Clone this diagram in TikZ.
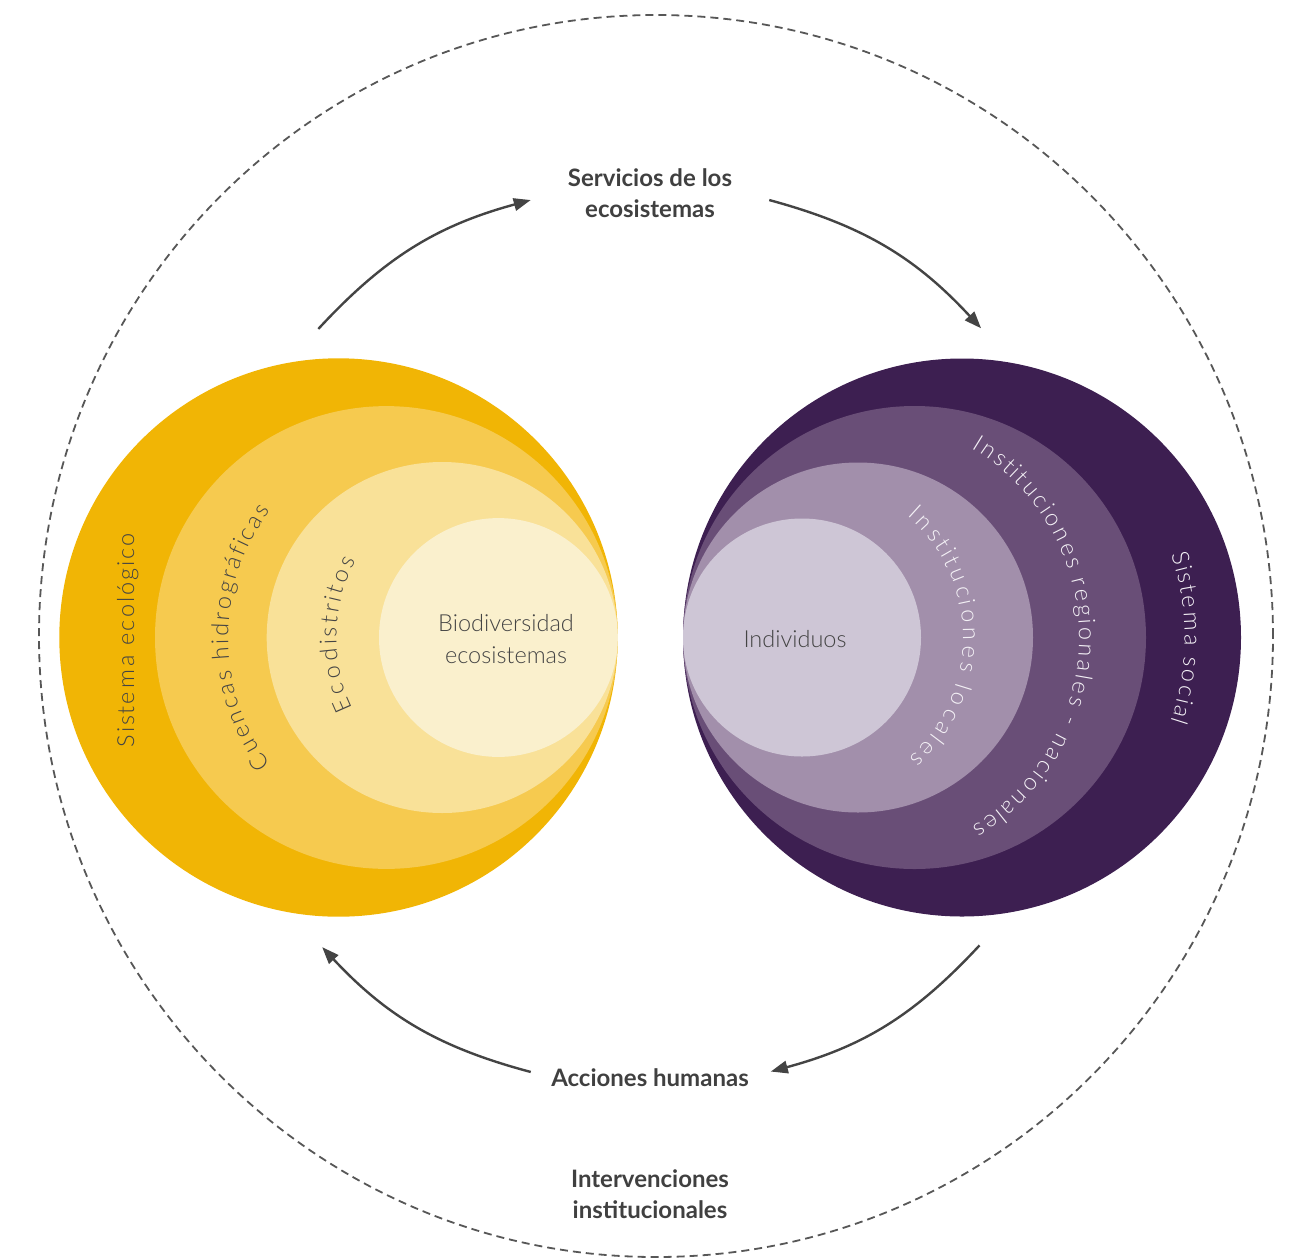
\documentclass[tikz,border=0pt]{standalone}
\usepackage{fontspec}
\setmainfont{Lato}
\IfFontExistsTF{Lato Light}{\newfontfamily\thinfont{Lato Light}}{\newfontfamily\thinfont{Lato}}
\usepackage{xcolor}
\usepackage{tikz}
\usetikzlibrary{positioning, arrows.meta, calc, decorations.text}
\definecolor{ecofill1}{HTML}{F1B505}
\definecolor{ecofill2}{HTML}{F6CA4F}
\definecolor{ecofill3}{HTML}{F9E198}
\definecolor{ecofill4}{HTML}{FAF0CD}
\definecolor{socfill1}{HTML}{3D1F51}
\definecolor{socfill2}{HTML}{694E77}
\definecolor{socfill3}{HTML}{A28FAB}
\definecolor{socfill4}{HTML}{CEC6D6}
\definecolor{inkgray}{HTML}{444444}
\definecolor{labelgray}{HTML}{404040}
\definecolor{paleink}{HTML}{F4F1F6}
\newcommand{\ringfont}{\thinfont\fontsize{23.5}{32}\selectfont}
\newcommand{\headfont}{\bfseries\fontsize{24}{31}\selectfont}

\tikzset{
  ring/.style={circle, inner sep=0pt, minimum size=#1},
  flow/.style={draw=inkgray, line width=2.4pt, -{Triangle[length=17pt, width=12.5pt]}},
  head/.style={font=\headfont, text=labelgray, align=center},
  core/.style={font=\ringfont, text=inkgray, align=center},
  ontext/.style 2 args={decorate, decoration={text effects along path, text={#1},
    text effects/.cd, text along path, fit text to path,
    characters={text=#2, font=\ringfont, inner sep=0pt}}},
}

\begin{document}
\begin{tikzpicture}[x=1pt, y=1pt]
  \useasboundingbox (0,0) rectangle (1294,-1259);

  % outer frame
  \draw[dash pattern=on 8pt off 5pt, line width=1.8pt, draw=inkgray!90] (656,-636) ellipse [x radius=617, y radius=621];

  % ecological system
  \node[ring=558.4pt, fill=ecofill1] (eco1) at (338.5,-637.5) {};
  \node[ring=462.8pt, fill=ecofill2] (eco2) at (386.4,-637.5) {};
  \node[ring=351pt, fill=ecofill3] (eco3) at (442.2,-637.5) {};
  \node[ring=238.8pt, fill=ecofill4] (eco4) at (498.4,-637.5) {};

  % social system
  \node[ring=558pt, fill=socfill1] (soc1) at (962,-637.5) {};
  \node[ring=463pt, fill=socfill2] (soc2) at (914.5,-637.5) {};
  \node[ring=350pt, fill=socfill3] (soc3) at (858,-637.5) {};
  \node[ring=238pt, fill=socfill4] (soc4) at (802,-637.5) {};

  % labels in the rings
  \path[ontext={Sistema ecológico}{inkgray}] (134,-747) -- (134,-533);
  \path[ontext={Cuencas hidrográficas}{inkgray}] ($(eco3)+(216.5:214)$) arc[start angle=216.5, end angle=143.5, radius=214];
  \path[ontext={Ecodistritos}{inkgray}] ($(eco4)+(206:162)$) arc[start angle=206, end angle=151.5, radius=162];
  \node[core] (biodiv) at (506,-639) {Biodiversidad\\ecosistemas};

  \path[ontext={Sistema social}{paleink}] ($(soc2)+(18:270)$) arc[start angle=18, end angle=-18.2, radius=270];
  \path[ontext={Instituciones regionales - nacionales}{paleink}] ($(soc3)+(59:221)$) arc[start angle=59, end angle=-59, radius=221];
  \path[ontext={Instituciones locales}{paleink}] ($(soc4)+(49:161)$) arc[start angle=49, end angle=-48.5, radius=161];
  \node[core] (indiv) at (795,-639) {Individuos};

  % cycle labels
  \node[head] (serv) at (650,-193) {Servicios de los\\ecosistemas};
  \node[head] (acc) at (650,-1078) {Acciones humanas};
  \node[head] (interv) at (650,-1194.5) {Intervenciones\\institucionales};

  % cycle arrows
  \coordinate (hub) at (650,-636);
  \coordinate (eco-out) at ($(hub)+(137.2:452)$);
  \coordinate (serv-in) at ($(hub)+(105.3:452)$);
  \coordinate (serv-out) at ($(hub)+(74.7:452)$);
  \coordinate (soc-in) at ($(hub)+(42.9:452)$);
  \coordinate (soc-out) at ($(hub)+(-43.2:452)$);
  \coordinate (acc-in) at ($(hub)+(-74.5:452)$);
  \coordinate (acc-out) at ($(hub)+(-105.3:452)$);
  \coordinate (eco-in) at ($(hub)+(-136.5:452)$);
  \draw[flow] (eco-out) to[bend left=16] (serv-in);
  \draw[flow] (serv-out) to[bend left=16] (soc-in);
  \draw[flow] (soc-out) to[bend left=16] (acc-in);
  \draw[flow] (acc-out) to[bend left=16] (eco-in);
\end{tikzpicture}
\end{document}
